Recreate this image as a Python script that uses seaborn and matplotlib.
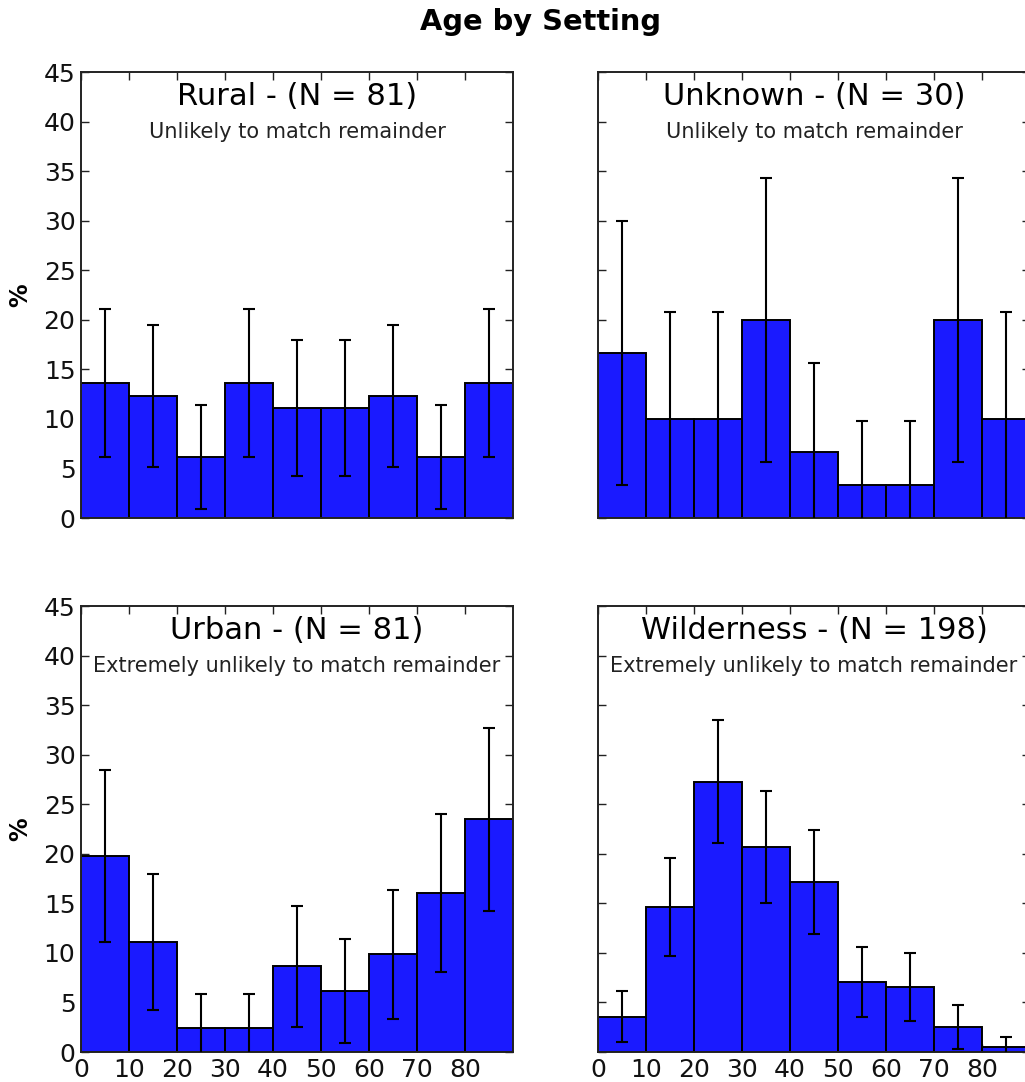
import numpy as np
import pandas as pd
import matplotlib
matplotlib.use("Agg")
import matplotlib.pyplot as plt
import seaborn as sns

# ---- data ----
bin_edges = [0, 10, 20, 30, 40, 50, 60, 70, 80, 90]
bin_centers = [5, 15, 25, 35, 45, 55, 65, 75, 85]
xtick_values = [0, 10, 20, 30, 40, 50, 60, 70, 80]

settings = ["Rural", "Unknown", "Urban", "Wilderness"]
counts_n = [81, 30, 81, 198]
subtitles = ["Unlikely to match remainder",
             "Unlikely to match remainder",
             "Extremely unlikely to match remainder",
             "Extremely unlikely to match remainder"]

rural_pct = [13.58, 12.35, 6.17, 13.58, 11.11, 11.11, 12.35, 6.17, 13.58]
rural_err = [7.46, 7.17, 5.24, 7.46, 6.84, 6.84, 7.17, 5.24, 7.46]

unknown_pct = [16.67, 10.0, 10.0, 20.0, 6.67, 3.33, 3.33, 20.0, 10.0]
unknown_err = [13.34, 10.74, 10.74, 14.31, 8.93, 6.43, 6.43, 14.31, 10.74]

urban_pct = [19.75, 11.11, 2.47, 2.47, 8.64, 6.17, 9.88, 16.05, 23.46]
urban_err = [8.67, 6.84, 3.38, 3.38, 6.12, 5.24, 6.50, 7.99, 9.23]

wild_pct = [3.54, 14.65, 27.27, 20.71, 17.17, 7.07, 6.57, 2.53, 0.51]
wild_err = [2.57, 4.92, 6.20, 5.65, 5.25, 3.57, 3.45, 2.19, 0.99]

pct_series = [rural_pct, unknown_pct, urban_pct, wild_pct]
err_series = [rural_err, unknown_err, urban_err, wild_err]

# ---- style ----
sns.set_style("ticks")
plt.rcParams["font.family"] = ["DejaVu Sans"]
plt.rcParams["text.color"] = "black"

BAR_COLOR = "#1a1aff"

fig = plt.figure(figsize=(10.25, 10.82), dpi=100)
W, H = 1025.0, 1082.0
ax_w, ax_h = 432 / W, 446 / H
positions = [
    (81 / W, 1 - 518 / H),
    (598 / W, 1 - 518 / H),
    (81 / W, 1 - 1052 / H),
    (598 / W, 1 - 1052 / H),
]

for i, (name, n, sub, pct, err) in enumerate(zip(settings, counts_n, subtitles, pct_series, err_series)):
    left, bottom = positions[i]
    ax = fig.add_axes([left, bottom, ax_w, ax_h])
    df = pd.DataFrame({"age": bin_centers, "pct": pct})
    sns.histplot(data=df, x="age", weights="pct", bins=bin_edges, ax=ax,
                 color=BAR_COLOR, alpha=1.0, edgecolor="black", linewidth=1.4,
                 element="bars", fill=True, stat="count")
    ax.errorbar(bin_centers, pct, yerr=err, fmt="none", ecolor="black",
                elinewidth=1.5, capsize=4.2, capthick=1.5, zorder=5)
    ax.set_xlim(0, 90)
    ax.set_ylim(0, 45)
    ax.set_yticks(np.arange(0, 50, 5))
    ax.set_xticks(xtick_values)
    ax.tick_params(direction="in", length=6, width=1.0, top=True, right=True,
                   labelsize=18, colors="#222222", labelcolor="#111111")
    ax.tick_params(axis="x", pad=4.5)
    ax.tick_params(axis="y", pad=4)
    for sp in ax.spines.values():
        sp.set_linewidth(1.4)
        sp.set_color("#222222")
    ax.set_xlabel("")
    ax.set_ylabel("")
    if i % 2 == 0:
        fig.text(20 / W, bottom + ax_h / 2, "%", rotation=90,
                 ha="center", va="center", fontsize=17, fontweight="bold")
    else:
        ax.tick_params(labelleft=False)
    if i < 2:
        ax.tick_params(labelbottom=False)
    ax.text(0.5, 0.944, f"{name} - (N = {n})", transform=ax.transAxes,
            ha="center", va="center", fontsize=22, color="black", zorder=10)
    ax.text(0.5, 0.865, sub, transform=ax.transAxes, ha="center", va="center",
            fontsize=15, color="#222222", zorder=10)

fig.text(540 / W, 1 - 22 / H, "Age by Setting", ha="center", va="center",
         fontsize=20.8, fontweight="bold", color="black")

fig.savefig("out.png", dpi=100)
